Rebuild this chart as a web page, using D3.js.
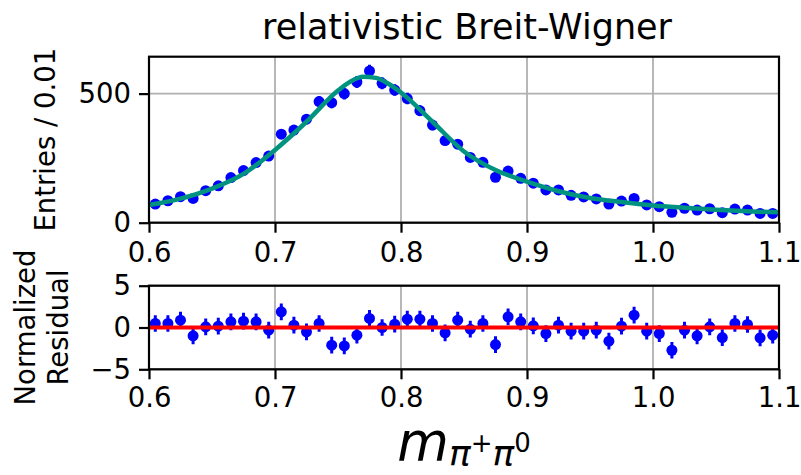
<!DOCTYPE html>
<html>
<head>
<meta charset="utf-8">
<script src="https://cdn.jsdelivr.net/npm/d3@7"></script>
<style>
  html, body { margin: 0; padding: 0; background: #fff; }
  svg { display: block; font-family: "DejaVu Sans", sans-serif; }
</style>
</head>
<body>
<svg id="chart" width="801" height="475"></svg>
<script>
// ---- data ----
const binCenters = [0.605,0.615,0.625,0.635,0.645,0.655,0.665,0.675,0.685,0.695,
  0.705,0.715,0.725,0.735,0.745,0.755,0.765,0.775,0.785,0.795,
  0.805,0.815,0.825,0.835,0.845,0.855,0.865,0.875,0.885,0.895,
  0.905,0.915,0.925,0.935,0.945,0.955,0.965,0.975,0.985,0.995,
  1.005,1.015,1.025,1.035,1.045,1.055,1.065,1.075,1.085,1.095];
const entries = [72,85,101,94,124,143,175,202,233,258,
  343,359,401,469,465,500,545,588,540,514,
  481,434,378,318,304,253,234,176,200,172,
  153,127,127,106,100,92,72,84,94,69,
  62,40,56,49,54,39,53,49,36,36];
const residuals = [0.48,0.48,0.88,-1.0,0.08,0.16,0.68,0.76,0.68,-0.32,
  1.88,0.28,-0.52,0.48,-2.12,-2.2,-0.92,1.08,0.0,0.4,
  1.0,1.0,0.48,-0.64,0.88,-0.2,0.48,-2.04,1.28,0.68,
  0.2,-0.72,0.28,-0.44,-0.44,-0.32,-1.64,0.16,1.48,-0.44,
  -0.72,-2.72,-0.32,-1.0,0.08,-1.2,0.48,0.36,-1.24,-0.92];
const fitX = [0.6,0.625,0.65,0.675,0.7,0.725,0.75,0.76,0.77,0.78,0.79,0.8,0.825,0.85,0.875,0.9,0.925,0.95,0.975,1.0,1.025,1.05,1.075,1.1];
const fitY = [68,93,132,189,282,391,512,547,565,561,538,504,391,276,204,159,122,96,80,67,58,50,44,40];
const xTicks = [0.6,0.7,0.8,0.9,1.0,1.1];
const xTickLabels = ["0.6","0.7","0.8","0.9","1.0","1.1"];
const topYTicks = [0,500];
const resYTicks = [-5,0,5];
const resYTickLabels = ["\u22125","0","5"];

// ---- layout ----
const svg = d3.select("#chart");
const L = 149, R = 779;
const topT = 56.7, topB = 222.7;
const resT = 285.7, resB = 369.3;
const x = d3.scaleLinear().domain([0.6,1.1]).range([L,R]);
const yTop = d3.scaleLinear().domain([0,643]).range([topB,topT]);
const yRes = d3.scaleLinear().domain([-5,5]).range([resB,resT]);

const gridColor = "#b0b0b0", tickFont = 27.5;

function panel(y, yt, ytl, T, B, clipId, xPad) {
  const g = svg.append("g");
  svg.append("clipPath").attr("id", clipId).append("rect")
    .attr("x", L).attr("y", T).attr("width", R-L).attr("height", B-T);
  g.selectAll(".vg").data(xTicks).join("line")
    .attr("x1", d=>x(d)).attr("x2", d=>x(d)).attr("y1", T).attr("y2", B)
    .attr("stroke", gridColor).attr("stroke-width", 1.8);
  g.selectAll(".hg").data(yt).join("line")
    .attr("x1", L).attr("x2", R).attr("y1", d=>y(d)).attr("y2", d=>y(d))
    .attr("stroke", gridColor).attr("stroke-width", 1.8);
  const xa = d3.axisBottom(x).tickValues(xTicks).tickFormat((d,i)=>xTickLabels[i])
    .tickSize(10).tickPadding(xPad);
  const ga = svg.append("g").attr("transform", `translate(0,${B})`).call(xa);
  const ya = d3.axisLeft(y).tickValues(yt).tickFormat((d,i)=>ytl[i])
    .tickSize(10).tickPadding(8);
  const gy = svg.append("g").attr("transform", `translate(${L},0)`).call(ya);
  [ga, gy].forEach(a => {
    a.select(".domain").remove();
    a.selectAll(".tick line").attr("stroke", "#000").attr("stroke-width", 2.2);
    a.selectAll(".tick text").attr("fill", "#000")
      .style("font-family", "DejaVu Sans").style("font-size", tickFont + "px");
  });
  return g;
}

function frame(T, B) {
  svg.append("rect").attr("x", L).attr("y", T).attr("width", R-L).attr("height", B-T)
    .attr("fill", "none").attr("stroke", "#000").attr("stroke-width", 2.2);
}

// ---- top panel ----
panel(yTop, topYTicks, ["0","500"], topT, topB, "clipTop", 10);
const dTop = svg.append("g").attr("clip-path", "url(#clipTop)");
const pts = binCenters.map((c,i)=>({x:c, y:entries[i], e:Math.sqrt(entries[i])}));
dTop.selectAll(".eb").data(pts).join("line")
  .attr("x1", d=>x(d.x)).attr("x2", d=>x(d.x))
  .attr("y1", d=>yTop(d.y - d.e)).attr("y2", d=>yTop(d.y + d.e))
  .attr("stroke", "#0000ff").attr("stroke-width", 3);
dTop.selectAll(".pt").data(pts).join("circle")
  .attr("cx", d=>x(d.x)).attr("cy", d=>yTop(d.y)).attr("r", 5.5).attr("fill", "#0000ff");
const fitLine = d3.line().x(d=>x(d[0])).y(d=>yTop(d[1])).curve(d3.curveMonotoneX);
dTop.append("path").datum(fitX.map((v,i)=>[v, fitY[i]]))
  .attr("d", fitLine).attr("fill", "none").attr("stroke", "#009480").attr("stroke-width", 4.5);
frame(topT, topB);

// ---- residual panel ----
panel(yRes, resYTicks, resYTickLabels, resT, resB, "clipRes", 8);
const dRes = svg.append("g").attr("clip-path", "url(#clipRes)");
const rp = binCenters.map((c,i)=>({x:c, y:residuals[i]}));
dRes.selectAll(".eb").data(rp).join("line")
  .attr("x1", d=>x(d.x)).attr("x2", d=>x(d.x))
  .attr("y1", d=>yRes(d.y - 1)).attr("y2", d=>yRes(d.y + 1))
  .attr("stroke", "#0000ff").attr("stroke-width", 3);
dRes.selectAll(".pt").data(rp).join("circle")
  .attr("cx", d=>x(d.x)).attr("cy", d=>yRes(d.y)).attr("r", 5.5).attr("fill", "#0000ff");
dRes.append("line").attr("x1", x(0.6)).attr("x2", x(1.1)).attr("y1", yRes(0)).attr("y2", yRes(0))
  .attr("stroke", "#ff0000").attr("stroke-width", 4);
frame(resT, resB);

// ---- texts ----
svg.append("text").attr("x", (L+R)/2 + 3).attr("y", 39).attr("text-anchor", "middle")
  .style("font-size", "35px").text("relativistic Breit-Wigner");

svg.append("text").attr("transform", `translate(55,${(topT+topB)/2}) rotate(-90)`)
  .attr("text-anchor", "middle").style("font-size", "27.5px").text("Entries / 0.01");

const rl = svg.append("text").attr("transform", `translate(35,${(resT+resB)/2}) rotate(-90)`)
  .attr("text-anchor", "middle").style("font-size", "27.5px");
rl.append("tspan").attr("x", 0).attr("dy", 0).text("Normalized");
rl.append("tspan").attr("x", 0).attr("dy", 33).text("Residual");

const xl = svg.append("text").attr("x", (L+R)/2).attr("y", 460).attr("text-anchor", "middle")
  .style("font-family", "DejaVu Sans");
xl.append("tspan").style("font-size", "53px").style("font-style", "italic").text("m");
xl.append("tspan").style("font-size", "36px").style("font-style", "italic").attr("dy", 6).text("\u03c0");
xl.append("tspan").style("font-size", "26px").attr("dy", -14).text("+");
xl.append("tspan").style("font-size", "36px").style("font-style", "italic").attr("dy", 14).text("\u03c0");
xl.append("tspan").style("font-size", "26px").attr("dy", -14).text("0");
</script>
</body>
</html>
